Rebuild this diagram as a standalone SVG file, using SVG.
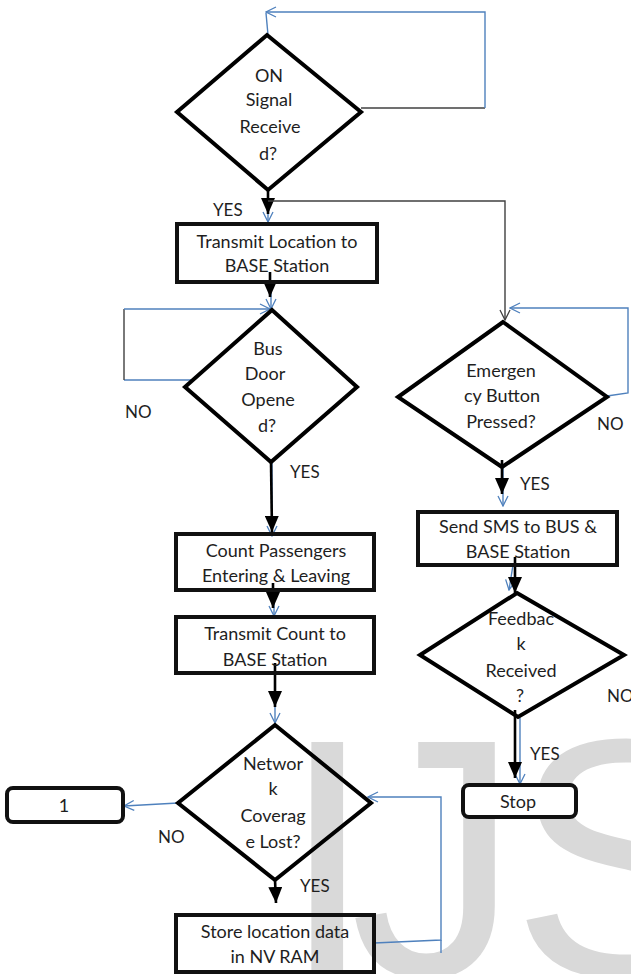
<svg xmlns="http://www.w3.org/2000/svg" width="631" height="974" viewBox="0 0 631 974">
  <style>
    .lbl { font-family: Lato, "Liberation Sans", sans-serif; font-size: 18px; fill: #1e1e1e; text-anchor: middle; }
    .tag { font-family: Lato, "Liberation Sans", sans-serif; font-size: 17px; fill: #1e1e1e; }
    .box { fill: none; stroke: #111; stroke-width: 4; }
    .term { fill: #fff; stroke: #111; stroke-width: 4; }
    .dia { fill: none; stroke: #000; stroke-width: 4; stroke-linejoin: miter; }
    .flow { fill: none; stroke: #000; stroke-width: 2.6; }
    .ln { fill: none; stroke: #4f81bd; stroke-width: 1.4; }
    .dk { fill: none; stroke: #404040; stroke-width: 1.4; }
    .mark { font-family: "Liberation Sans", Arial, sans-serif; font-size: 340px; fill: #d9d9d9; }
  </style>
  <defs>
    <marker id="tri" viewBox="0 0 16 14" refX="16" refY="7" markerWidth="16" markerHeight="14" markerUnits="userSpaceOnUse" orient="auto">
      <path d="M0,0 L16,7 L0,14 z" fill="#000"/>
    </marker>
    <marker id="chev" viewBox="0 0 12 12" refX="11" refY="6" markerWidth="12" markerHeight="12" markerUnits="userSpaceOnUse" orient="auto">
      <path d="M1,1 L11,6 L1,11" fill="none" stroke="#4f81bd" stroke-width="1.3"/>
    </marker>
    <marker id="chevdk" viewBox="0 0 12 12" refX="11" refY="6" markerWidth="12" markerHeight="12" markerUnits="userSpaceOnUse" orient="auto">
      <path d="M1,1 L11,6 L1,11" fill="none" stroke="#404040" stroke-width="1.3"/>
    </marker>
  </defs>

  <!-- background watermark -->
  <text class="mark" x="280 350 511" y="976">IJS</text>

  <g id="connectors">
    <!-- ON signal: NO loop back to the top -->
    <path class="dk" d="M361,108 H485"/>
    <path class="ln" d="M485,108 V12 H266" marker-end="url(#chev)"/>
    <path class="ln" d="M266,13 L268,35"/>
    <!-- ON signal: YES -->
    <path class="ln" d="M268,190 V222" marker-end="url(#chev)"/>
    <path class="flow" d="M268,190 V214" marker-end="url(#tri)"/>
    <path class="dk" d="M268,201 H505 V320" marker-end="url(#chevdk)"/>
    <!-- location box to bus door -->
    <path class="ln" d="M271,282 V309" marker-end="url(#chev)"/>
    <path class="flow" d="M270,272 V297" marker-end="url(#tri)"/>
    <!-- bus door: NO loop -->
    <path class="ln" d="M195,380 H124"/>
    <path class="dk" d="M124,380 V309"/>
    <path class="ln" d="M124,309 H270" marker-end="url(#chev)"/>
    <!-- bus door: YES -->
    <path class="ln" d="M272,462 V536" marker-end="url(#chev)"/>
    <path class="flow" d="M271,462 L272,532" marker-end="url(#tri)"/>
    <!-- count to transmit count -->
    <path class="ln" d="M274,590 V616" marker-end="url(#chev)"/>
    <path class="flow" d="M273,583 V608" marker-end="url(#tri)"/>
    <!-- transmit count to network -->
    <path class="ln" d="M275,673 V723" marker-end="url(#chev)"/>
    <path class="flow" d="M275,663 V707" marker-end="url(#tri)"/>
    <!-- network: NO -->
    <path class="ln" d="M178,803 L124,806" marker-end="url(#chev)"/>
    <!-- network: YES -->
    <path class="flow" d="M275,880 L276,903" marker-end="url(#tri)"/>
    <!-- store location loop back -->
    <path class="ln" d="M374,943 L441,940 V797 H368" marker-end="url(#chev)"/>
    <path class="ln" d="M441,940 V953"/>
    <!-- emergency: NO loop -->
    <path class="ln" d="M607,396 L628,393 V308 H510" marker-end="url(#chev)"/>
    <!-- emergency: YES -->
    <path class="ln" d="M503,467 V506" marker-end="url(#chev)"/>
    <path class="flow" d="M502,460 V494" marker-end="url(#tri)"/>
    <!-- sms to feedback -->
    <path class="ln" d="M513,565 L509,590" marker-end="url(#chev)"/>
    <path class="flow" d="M515,557 V593" marker-end="url(#tri)"/>
    <!-- feedback: YES -->
    <path class="ln" d="M520,718 V784" marker-end="url(#chev)"/>
    <path class="flow" d="M515,710 V778" marker-end="url(#tri)"/>
  </g>

  <g id="on-signal">
    <polygon class="dia" points="267,35 361,112 268,190 177,112"/>
    <text class="lbl" x="269" y="82">ON</text>
    <text class="lbl" x="269" y="106">Signal</text>
    <text class="lbl" x="270" y="133">Receive</text>
    <text class="lbl" x="268" y="160">d?</text>
  </g>
  <text class="tag" x="213" y="216">YES</text>

  <g id="transmit-location">
    <rect class="box" x="177" y="224" width="200" height="58"/>
    <text class="lbl" x="277" y="248">Transmit Location to</text>
    <text class="lbl" x="277" y="272">BASE Station</text>
  </g>

  <g id="bus-door">
    <polygon class="dia" points="272,310 357,387 271,462 185,387"/>
    <text class="lbl" x="268" y="355">Bus</text>
    <text class="lbl" x="265" y="380">Door</text>
    <text class="lbl" x="268" y="406">Opene</text>
    <text class="lbl" x="267" y="432">d?</text>
  </g>
  <text class="tag" x="125" y="418">NO</text>
  <text class="tag" x="290" y="478">YES</text>

  <g id="count-passengers">
    <rect class="box" x="176" y="534" width="198" height="56"/>
    <text class="lbl" x="276" y="557">Count Passengers</text>
    <text class="lbl" x="276" y="582">Entering &amp; Leaving</text>
  </g>

  <g id="transmit-count">
    <rect class="box" x="176" y="617" width="198" height="56"/>
    <text class="lbl" x="275" y="640">Transmit Count to</text>
    <text class="lbl" x="275" y="666">BASE Station</text>
  </g>

  <g id="network-lost">
    <polygon class="dia" points="275,725 371,803 275,880 178,803"/>
    <text class="lbl" x="273" y="770">Networ</text>
    <text class="lbl" x="273" y="795">k</text>
    <text class="lbl" x="273" y="822">Coverag</text>
    <text class="lbl" x="273" y="848">e Lost?</text>
  </g>
  <text class="tag" x="158" y="843">NO</text>
  <text class="tag" x="300" y="892">YES</text>

  <g id="connector-1">
    <rect class="term" x="7" y="788" width="116" height="34" rx="6"/>
    <text class="lbl" x="64" y="812">1</text>
  </g>

  <g id="store-location">
    <rect class="box" x="176" y="915" width="198" height="57"/>
    <text class="lbl" x="275" y="938">Store location data</text>
    <text class="lbl" x="275" y="963">in NV RAM</text>
  </g>

  <g id="emergency">
    <polygon class="dia" points="503,322 607,397 502,467 398,397"/>
    <text class="lbl" x="501" y="377">Emergen</text>
    <text class="lbl" x="502" y="402">cy Button</text>
    <text class="lbl" x="501" y="428">Pressed?</text>
  </g>
  <text class="tag" x="597" y="430">NO</text>
  <text class="tag" x="520" y="490">YES</text>

  <g id="send-sms">
    <rect class="box" x="418" y="512" width="199" height="53"/>
    <text class="lbl" x="518" y="533">Send SMS to BUS &amp;</text>
    <text class="lbl" x="518" y="558">BASE Station</text>
  </g>

  <g id="feedback">
    <polygon class="dia" points="517,593 624,655 518,717 420,655"/>
    <text class="lbl" x="521" y="625">Feedbac</text>
    <text class="lbl" x="521" y="650">k</text>
    <text class="lbl" x="521" y="677">Received</text>
    <text class="lbl" x="520" y="702">?</text>
  </g>
  <text class="tag" x="607" y="702">NO</text>
  <text class="tag" x="530" y="760">YES</text>

  <g id="stop">
    <rect class="term" x="463" y="785" width="113" height="32" rx="6"/>
    <text class="lbl" x="518" y="808">Stop</text>
  </g>
</svg>
